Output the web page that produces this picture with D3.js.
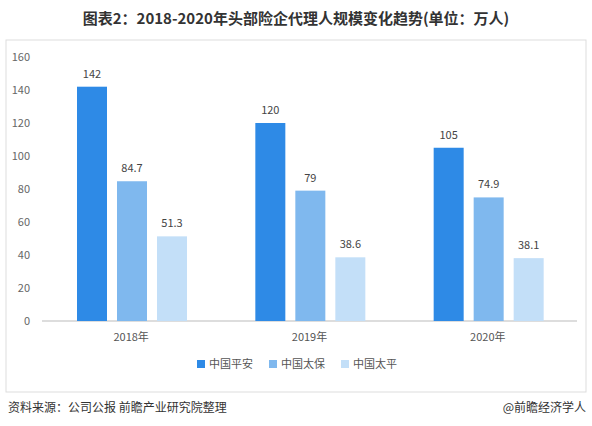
<!DOCTYPE html>
<html><head><meta charset="utf-8">
<script src="https://cdn.jsdelivr.net/npm/d3@7"></script>
<style>body{margin:0;background:#fff;font-family:"Noto Sans CJK SC","Noto Sans",sans-serif}</style>
</head><body><svg width="592" height="426"></svg>
<script>
const years = ["2018年", "2019年", "2020年"];
const series = ["中国平安", "中国太保", "中国太平"];
const values = [[142, 84.7, 51.3], [120, 79, 38.6], [105, 74.9, 38.1]];
const yTicks = [0, 20, 40, 60, 80, 100, 120, 140, 160];
const colors = ["#2e8ae6", "#7fb8ee", "#c3dff8"];

const svg = d3.select("svg");
svg.append("text").attr("x", 296).attr("y", 24).attr("text-anchor", "middle")
  .attr("font-size", 15).attr("font-weight", "bold").attr("fill", "#333")
  .text("图表2：2018-2020年头部险企代理人规模变化趋势(单位：万人)");
svg.append("rect").attr("x", 6).attr("y", 40).attr("width", 580).attr("height", 352)
  .attr("fill", "none").attr("stroke", "#ddd");

const x = d3.scaleBand().domain(years).range([42, 577]);
const xs = d3.scaleBand().domain(series).range([35, 145]).paddingInner(0.25);
const y = d3.scaleLinear().domain([0, 160]).range([321, 57]);

svg.append("g").selectAll("text").data(yTicks).join("text")
  .attr("x", 30).attr("y", d => y(d) + 4).attr("text-anchor", "end")
  .attr("font-size", 11).attr("fill", "#666").text(d => d);
svg.append("line").attr("x1", 42).attr("x2", 577).attr("y1", 321).attr("y2", 321).attr("stroke", "#bbb");

const g = svg.append("g").selectAll("g").data(years).join("g")
  .attr("transform", d => `translate(${x(d)},0)`);
g.selectAll("rect").data((d, i) => values[i]).join("rect")
  .attr("x", (d, j) => xs(series[j])).attr("width", xs.bandwidth())
  .attr("y", d => y(d)).attr("height", d => y(0) - y(d))
  .attr("fill", (d, j) => colors[j]);
g.selectAll("text.v").data((d, i) => values[i]).join("text")
  .attr("x", (d, j) => xs(series[j]) + xs.bandwidth() / 2).attr("y", d => y(d) - 9)
  .attr("text-anchor", "middle").attr("font-size", 11).attr("fill", "#444").text(d => d);
g.append("text").attr("x", x.bandwidth() / 2).attr("y", 341).attr("text-anchor", "middle")
  .attr("font-size", 11).attr("fill", "#555").text(d => d);

const lg = svg.append("g").selectAll("g").data(series).join("g")
  .attr("transform", (d, i) => `translate(${197 + i * 72},365)`);
lg.append("rect").attr("y", -5).attr("width", 8).attr("height", 8).attr("fill", (d, i) => colors[i]);
lg.append("text").attr("x", 12).attr("y", 3).attr("font-size", 11).attr("fill", "#555").text(d => d);

svg.append("text").attr("x", 8).attr("y", 412).attr("font-size", 12).attr("fill", "#333")
  .text("资料来源：公司公报 前瞻产业研究院整理");
svg.append("text").attr("x", 586).attr("y", 412).attr("text-anchor", "end").attr("font-size", 12).attr("fill", "#333")
  .text("@前瞻经济学人");
</script></body></html>
